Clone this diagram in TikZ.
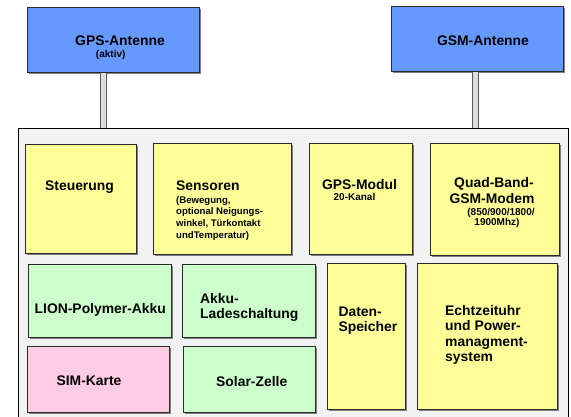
\documentclass[tikz,border=0pt]{standalone}
\usepackage{fontspec}
\setmainfont{Liberation Sans}
\usetikzlibrary{shadows}
\definecolor{antblue}{HTML}{6699FF}
\definecolor{boxyellow}{HTML}{FFFF99}
\definecolor{boxgreen}{HTML}{CCFFCC}
\definecolor{boxpink}{HTML}{FFCCE6}
\definecolor{contgray}{HTML}{F2F2F2}
\definecolor{mastgray}{HTML}{DDDDDD}
\definecolor{edge}{HTML}{2B2B2B}
\tikzset{
  blk/.style={draw=edge, line width=1.1pt, anchor=north west, inner sep=0pt,
    drop shadow={shadow xshift=1.1pt, shadow yshift=-1.1pt, fill=black!50, opacity=1}},
  antbox/.style={blk, fill=antblue},
  ybox/.style={blk, fill=boxyellow},
  gbox/.style={blk, fill=boxgreen},
  pbox/.style={blk, fill=boxpink},
  contbox/.style={draw=black, line width=1.3pt, fill=contgray, anchor=north west, inner sep=0pt},
  mast/.style={draw=black!65, line width=1pt, double=mastgray, double distance=5pt},
  big/.style={font=\fontsize{13.9}{15.6}\selectfont\bfseries, inner sep=0pt},
  small/.style={font=\fontsize{10}{11.7}\selectfont\bfseries, inner sep=0pt},
  tiny/.style={font=\fontsize{9.6}{11.6}\selectfont\bfseries, inner sep=0pt},
}
\begin{document}
\begin{tikzpicture}[x=1pt,y=-1pt]
\clip (0,0) rectangle (571,416);
\fill[white] (0,0) rectangle (571,416);
% container
\node[contbox, minimum width=550pt, minimum height=300pt] (cont) at (18,128) {};
% antennas
\node[antbox, minimum width=172pt, minimum height=65pt] (gpsant) at (27,7) {};
\node[antbox, minimum width=172pt, minimum height=65pt] (gsmant) at (391,6) {};
% masts
\coordinate (gpsx) at (103.5,0);
\coordinate (gsmx) at (475,0);
\draw[mast] (gpsant.south -| gpsx) -- (cont.north -| gpsx);
\draw[mast] (gsmant.south -| gsmx) -- (cont.north -| gsmx);
% inner boxes
\node[ybox, minimum width=111pt, minimum height=109pt] (steu) at (25,144) {};
\node[ybox, minimum width=138pt, minimum height=111pt] (sens) at (153,143) {};
\node[ybox, minimum width=103pt, minimum height=111pt] (gpsmod) at (309,143) {};
\node[ybox, minimum width=129pt, minimum height=112pt] (quad) at (430,143) {};
\node[gbox, minimum width=143pt, minimum height=73pt] (lion) at (28,264) {};
\node[gbox, minimum width=133pt, minimum height=73pt] (lade) at (182,264) {};
\node[pbox, minimum width=142pt, minimum height=66pt] (sim) at (27,346) {};
\node[gbox, minimum width=132pt, minimum height=66pt] (solar) at (183,346) {};
\node[ybox, minimum width=78pt, minimum height=146pt] (daten) at (327,263) {};
\node[ybox, minimum width=140pt, minimum height=146pt] (echt) at (417,263) {};
% texts
\node[big, anchor=base] (t1) at (120,45) {GPS-Antenne};
\node[small, anchor=base] (t2) at (110.7,57.6) {(aktiv)};
\node[big, anchor=base] (t3) at (483,45.7) {GSM-Antenne};
\node[big, anchor=base] (t4) at (79.5,190) {Steuerung};
\node[big, anchor=base west] (t5) at (176,190) {Sensoren};
\node[tiny, anchor=base west] (t6) at (176,203) {(Bewegung,};
\node[tiny, anchor=base west] (t7) at (176,214.8) {optional Neigungs-};
\node[tiny, anchor=base west] (t8) at (176,226.6) {winkel, Türkontakt};
\node[tiny, anchor=base west] (t9) at (176,238.4) {undTemperatur)};
\node[big, anchor=base] (t10) at (359.5,189) {GPS-Modul};
\node[small, anchor=base] (t11) at (354.5,200.3) {20-Kanal};
\node[big, anchor=base] (t12) at (494,187.3) {Quad-Band-};
\node[big, anchor=base] (t13) at (492,203.3) {GSM-Modem};
\node[small, anchor=base] (t14) at (501,215.5) {(850/900/1800/};
\node[small, anchor=base] (t15) at (497,225.2) {1900Mhz)};
\node[big, anchor=base] (t16) at (100.3,313.3) {LION-Polymer-Akku};
\node[big, anchor=base west] (t17) at (200,303.3) {Akku-};
\node[big, anchor=base west] (t18) at (200,318.3) {Ladeschaltung};
\node[big, anchor=base] (t19) at (89,385) {SIM-Karte};
\node[big, anchor=base] (t20) at (251.7,386) {Solar-Zelle};
\node[big, anchor=base west] (t21) at (338.3,316) {Daten-};
\node[big, anchor=base west] (t22) at (338.3,331.7) {Speicher};
\node[big, anchor=base west] (t23) at (445,315) {Echtzeituhr};
\node[big, anchor=base west] (t24) at (445,330.6) {und Power-};
\node[big, anchor=base west] (t25) at (445,346.2) {managment-};
\node[big, anchor=base west] (t26) at (445,361.8) {system};
\end{tikzpicture}
\end{document}
